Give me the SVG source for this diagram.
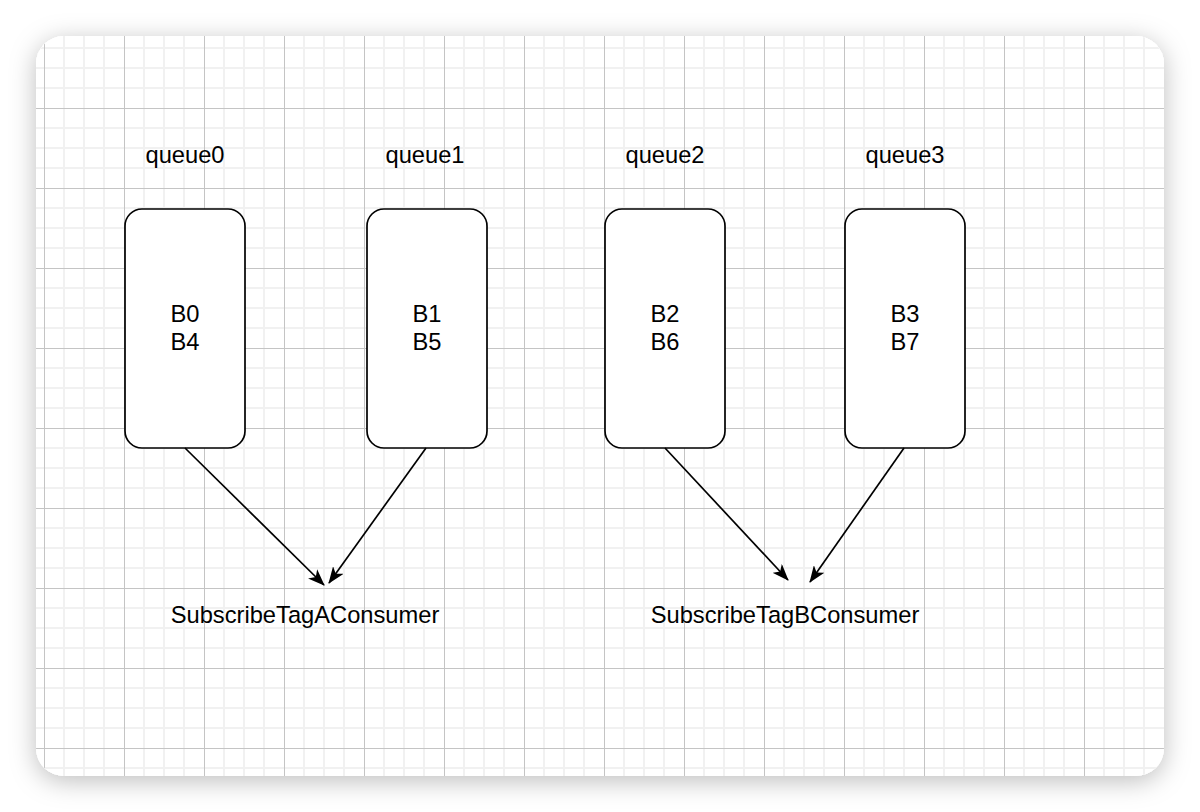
<svg xmlns="http://www.w3.org/2000/svg" width="1200" height="812" viewBox="0 0 1200 812">
  <defs>
    <filter id="shadow" x="-10%" y="-10%" width="120%" height="125%">
      <feDropShadow dx="0" dy="5" stdDeviation="13" flood-color="#000" flood-opacity="0.26"/>
    </filter>
    <pattern id="grid" patternUnits="userSpaceOnUse" x="4" y="68" width="80" height="80">
      <rect x="0" y="0" width="80" height="80" fill="#ffffff"/>
      <g fill="#f1f1f1">
        <rect x="0" y="0" width="1" height="80"/>
        <rect x="79" y="0" width="1" height="80"/>
        <rect x="19" y="0" width="2" height="80"/>
        <rect x="59" y="0" width="2" height="80"/>
        <rect x="0" y="0" width="80" height="1"/>
        <rect x="0" y="79" width="80" height="1"/>
        <rect x="0" y="19" width="80" height="2"/>
        <rect x="0" y="59" width="80" height="2"/>
      </g>
      <g fill="#c4c4c4">
        <rect x="40" y="0" width="1" height="80"/>
        <rect x="0" y="40" width="80" height="1"/>
      </g>
    </pattern>
    <marker id="arrow" viewBox="0 0 17 13" refX="16" refY="6.5" markerWidth="17" markerHeight="13" markerUnits="userSpaceOnUse" orient="auto">
      <path d="M0,0 L17,6.5 L0,13 L4.5,6.5 Z" fill="#000"/>
    </marker>
    <style>
      .box { fill: #ffffff; stroke: #000; stroke-width: 1.7; }
      .lbl { font-family: "Liberation Sans", Arial, sans-serif; font-size: 23.7px; fill: #000; text-anchor: middle; }
      .conn { stroke: #000; stroke-width: 1.7; fill: none; marker-end: url(#arrow); }
    </style>
  </defs>

  <rect x="0" y="0" width="1200" height="812" fill="#ffffff"/>
  <rect x="36" y="36" width="1128" height="740" rx="28" ry="28" fill="#ffffff" filter="url(#shadow)"/>
  <rect x="36" y="36" width="1128" height="740" rx="28" ry="28" fill="url(#grid)"/>

  <g id="title-queue0"><text class="lbl" x="185" y="163">queue0</text></g>
  <g id="title-queue1"><text class="lbl" x="425" y="163">queue1</text></g>
  <g id="title-queue2"><text class="lbl" x="665" y="163">queue2</text></g>
  <g id="title-queue3"><text class="lbl" x="905" y="163">queue3</text></g>

  <g id="queue0">
    <rect class="box" x="125" y="209" width="120" height="239" rx="17" ry="17"/>
    <text class="lbl" x="185" y="322">B0</text>
    <text class="lbl" x="185" y="350">B4</text>
  </g>
  <g id="queue1">
    <rect class="box" x="367" y="209" width="120" height="239" rx="17" ry="17"/>
    <text class="lbl" x="427" y="322">B1</text>
    <text class="lbl" x="427" y="350">B5</text>
  </g>
  <g id="queue2">
    <rect class="box" x="605" y="209" width="120" height="239" rx="17" ry="17"/>
    <text class="lbl" x="665" y="322">B2</text>
    <text class="lbl" x="665" y="350">B6</text>
  </g>
  <g id="queue3">
    <rect class="box" x="845" y="209" width="120" height="239" rx="17" ry="17"/>
    <text class="lbl" x="905" y="322">B3</text>
    <text class="lbl" x="905" y="350">B7</text>
  </g>

  <g id="consumerA"><text class="lbl" x="305" y="623">SubscribeTagAConsumer</text></g>
  <g id="consumerB"><text class="lbl" x="785" y="623">SubscribeTagBConsumer</text></g>

  <g id="connectors">
    <path class="conn" d="M185,448 L324,585"/>
    <path class="conn" d="M426,448 L329,583"/>
    <path class="conn" d="M665,448 L788,580"/>
    <path class="conn" d="M904,448 L810,582"/>
  </g>
</svg>
